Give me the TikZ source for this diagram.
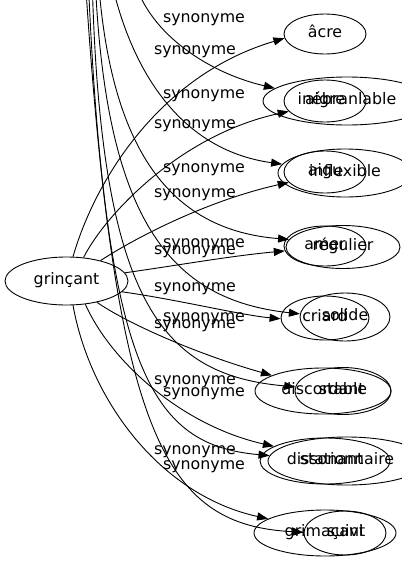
\documentclass[tikz,border=0pt]{standalone}
\usepackage{fontspec}
\setmainfont{DejaVu Sans}
\usetikzlibrary{shapes.geometric,arrows.meta}
\begin{document}
\begin{tikzpicture}[x=1pt,y=-1pt,
  nd/.style={ellipse,draw,line width=0.9pt,inner sep=0pt,font=\fontsize{15.8}{18}\selectfont,text height=11pt,text depth=4pt},
  lbl/.style={font=\fontsize{15.8}{18}\selectfont,inner sep=0pt,anchor=base},
  ed/.style={line width=0.9pt,-{Triangle[length=11pt,width=8pt]}}]
\clip (0,0) rectangle (402,563);
% source
\node[nd,minimum width=123pt,minimum height=48pt] (g) at (66.5,281) {grinçant};
% group A
\node[nd,minimum width=82pt,minimum height=40pt] (acre) at (325,34) {âcre};
\node[nd,minimum width=82pt,minimum height=42pt] (aigre) at (325,101) {aigre};
\node[nd,minimum width=82pt,minimum height=42pt] (aigu) at (325,172) {aigu};
\node[nd,minimum width=82pt,minimum height=40pt] (amer) at (325,246) {amer};
\node[nd,minimum width=88pt,minimum height=44pt] (criard) at (325,318) {criard};
\node[nd,minimum width=136pt,minimum height=46pt] (discordant) at (323,391) {discordant};
\node[nd,minimum width=130pt,minimum height=46pt] (dissonant) at (325,461) {dissonant};
\node[nd,minimum width=142pt,minimum height=46pt] (grimacant) at (325,533) {grimaçant};
% group B
\node[nd,minimum width=168pt,minimum height=48pt] (ineb) at (347,101) {inébranlable};
\node[nd,minimum width=134pt,minimum height=48pt] (infl) at (345,173) {inflexible};
\node[nd,minimum width=114pt,minimum height=43pt] (regu) at (343,247) {régulier};
\node[nd,minimum width=90pt,minimum height=48pt] (soli) at (345,317) {solide};
\node[nd,minimum width=96pt,minimum height=47pt] (stab) at (343,391) {stable};
\node[nd,minimum width=158pt,minimum height=48pt] (stat) at (347,461) {stationnaire};
\node[nd,minimum width=82pt,minimum height=44pt] (suiv) at (345,533) {suivi};
% free ends above the picture
\coordinate (t2) at (133,-25);
\coordinate (t3) at (110,-25);
\coordinate (t4) at (98,-25);
\coordinate (t5) at (95,-25);
\coordinate (t6) at (92,-25);
\coordinate (t7) at (88,-25);
\coordinate (t8) at (85,-25);
% edges from grinçant
\draw[ed] (g.75) .. controls (95,180) and (160,75) .. (acre.186);
\draw[ed] (g.54) .. controls (105,215) and (180,135) .. (aigre.196);
\draw[ed] (g.31) .. controls (140,235) and (210,200) .. (aigu.196);
\draw[ed] (g.8) .. controls (180,265) and (230,256) .. (amer.187);
\draw[ed] (g.349) .. controls (180,300) and (240,315) .. (criard.181);
\draw[ed] (g.325) .. controls (130,325) and (200,355) .. (discordant.163);
\draw[ed] (g.309) .. controls (110,360) and (180,425) .. (dissonant.164);
\draw[ed] (g.285) .. controls (90,400) and (160,495) .. (grimacant.166);
% edges from above
\draw[ed] (t2) .. controls (145,30) and (205,72) .. (ineb.170);
\draw[ed] (t3) .. controls (130,70) and (180,150) .. (infl.172);
\draw[ed] (t4) .. controls (110,150) and (170,230) .. (regu.172);
\draw[ed] (t5) .. controls (105,220) and (170,300) .. (soli.176);
\draw[ed] (t6) .. controls (100,300) and (160,375) .. (stab.175);
\draw[ed] (t7) .. controls (105,370) and (150,445) .. (stat.176);
\draw[ed] (t8) .. controls (115,440) and (165,525) .. (suiv.179);
% labels
\foreach \yy [count=\i] in {50,124,193,250,287,324,380,450}
  \node[lbl] (la\i) at (195,\yy+4.5) {synonyme};
\foreach \yy [count=\i] in {18,94,168,243,317,392,465}
  \node[lbl] (lb\i) at (204,\yy+4.5) {synonyme};
\end{tikzpicture}
\end{document}
